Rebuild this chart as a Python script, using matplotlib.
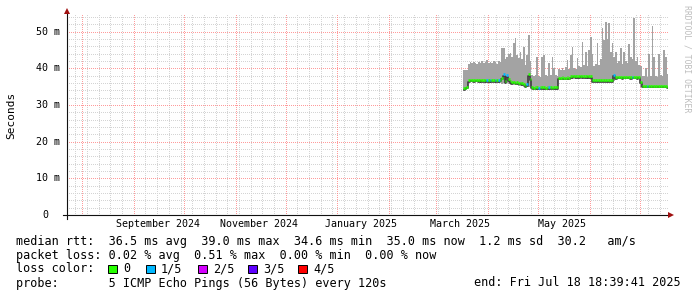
import pandas as pd
import matplotlib
matplotlib.use('Agg')
import matplotlib.pyplot as plt
import matplotlib.dates as mdates
import matplotlib.transforms as mtransforms
from matplotlib.lines import Line2D
from matplotlib.patches import Rectangle

# one value per day starting 2025-03-18, rtt in ms
first_day = '2025-03-18 12:00'
median_rtt = [
    34.6, 34.7, 35.0,
    36.8, 36.9, 36.9, 36.8, 36.9, 36.9, 36.8, 36.9, 36.8, 36.8,
    36.9, 36.8, 36.8, 36.9, 36.8, 36.8, 36.9, 36.8, 36.8, 36.9,
    37.4, 38.4, 36.4, 38.1, 37.0,
    36.4, 36.2, 36.3, 36.1, 36.2, 36.0, 36.1, 35.9, 35.8,
    35.2, 35.6,
    38.4, 37.2,
    34.9, 34.7, 34.8, 34.8, 34.7, 34.8, 34.8, 34.8,
    34.7, 34.8, 34.8, 34.8, 34.7, 34.8, 34.8, 34.8,
    37.4, 37.4, 37.5, 37.4, 37.4, 37.5, 37.4,
    37.8, 37.8, 37.9, 37.8, 37.8, 37.8, 37.9, 37.8, 37.8, 37.8, 37.9, 37.8, 37.8,
    36.8, 36.7, 36.8, 36.8, 36.7, 36.8, 36.8, 36.8, 36.7, 36.8, 36.8, 36.8, 36.8,
    38.3,
    37.6, 37.7, 37.7, 37.7, 37.6, 37.7, 37.7, 37.7, 37.7, 37.6, 37.7, 37.7, 37.7, 37.6, 37.7,
    36.3,
    35.3, 35.2, 35.3, 35.3, 35.2, 35.3, 35.3, 35.3, 35.2, 35.3, 35.3, 35.3, 35.2, 35.3, 35.2,
    34.9,
]
smoke_max = [
    39.5, 39.6, 39.4,
    41.3, 41.6, 41.4, 41.8, 41.5, 41.2, 41.7, 41.5, 41.9, 41.4,
    41.6, 42.2, 41.5, 41.8, 41.4, 42.0, 41.6, 41.3, 42.1, 41.7,
    45.5, 45.4, 42.5, 43.0, 44.0,
    44.2, 43.0, 46.8, 48.2, 43.5, 42.8, 44.5, 42.5, 45.9,
    41.0, 43.5,
    49.1, 42.0,
    38.2, 37.9, 38.3, 43.2, 38.0, 37.7, 43.2, 43.6,
    38.1, 37.9, 41.5, 38.2, 43.0, 40.0, 38.3, 37.8,
    39.8, 39.4, 40.1, 39.6, 40.3, 42.3, 39.8,
    43.6, 45.9, 40.2, 39.9, 42.7, 40.5, 40.3, 47.3, 40.8, 44.5, 40.6, 45.0, 48.6,
    44.0, 40.5, 41.2, 46.8, 40.8, 42.5, 51.0, 47.7, 52.7, 48.0, 52.3, 44.5, 46.8,
    43.0,
    44.5, 41.5, 42.0, 45.5, 41.2, 44.5, 42.0, 41.5, 46.5, 43.0, 42.5, 53.6, 42.0, 43.2, 41.0,
    40.5,
    37.8, 38.0, 40.0, 37.6, 44.0, 37.9, 51.6, 43.2, 38.0, 37.7, 44.0, 38.1, 37.8, 45.0, 43.2,
    38.5,
]
smoke_min = [
    34.2, 34.3, 34.4,
    36.2, 36.3, 36.2, 36.2, 36.3, 36.2, 36.2, 36.2, 36.3, 36.2,
    36.2, 36.2, 36.1, 36.2, 36.2, 36.3, 36.2, 36.2, 36.1, 36.2,
    35.8, 36.0, 35.6, 35.9, 35.7,
    35.7, 35.6, 35.6, 35.4, 35.5, 35.3, 35.4, 35.2, 35.0,
    34.6, 34.8,
    35.0, 35.2,
    34.2, 34.2, 34.3, 34.2, 34.2, 34.2, 34.3, 34.2,
    34.2, 34.2, 34.2, 34.3, 34.2, 34.2, 34.2, 34.2,
    36.9, 36.9, 37.0, 36.9, 36.9, 36.9, 36.9,
    37.2, 37.2, 37.3, 37.2, 37.2, 37.2, 37.2, 37.2, 37.3, 37.2, 37.2, 37.2, 37.2,
    36.2, 36.2, 36.2, 36.1, 36.2, 36.2, 36.2, 36.2, 36.2, 36.1, 36.2, 36.2, 36.2,
    36.5,
    37.1, 37.1, 37.1, 37.0, 37.1, 37.1, 37.1, 37.1, 37.1, 37.1, 37.0, 37.1, 37.1, 37.1, 37.1,
    35.0,
    34.7, 34.7, 34.7, 34.6, 34.7, 34.7, 34.7, 34.7, 34.7, 34.6, 34.7, 34.7, 34.7, 34.7, 34.6,
    34.3,
]
# lost pings (out of 5) per day
loss = [
    0, 0, 0, 0, 0, 0, 0, 0, 0, 0,
    0, 0, 0, 0, 1, 0, 1, 0, 0, 1,
    0, 1, 0, 0, 1, 0, 1, 0, 0, 0,
    0, 0, 0, 0, 0, 0, 0, 0, 1, 0,
    0, 0, 0, 0, 0, 1, 0, 0, 0, 0,
    0, 1, 0, 0, 0, 0, 0, 0, 0, 0,
    0, 0, 0, 0, 0, 0, 0, 0, 0, 0,
    0, 0, 0, 0, 0, 0, 0, 0, 0, 0,
    0, 0, 0, 0, 0, 0, 0, 0, 0, 0,
    1, 0, 0, 0, 0, 0, 0, 0, 0, 0,
    0, 1, 0, 0, 0, 0, 0, 0, 0, 0,
    1, 0, 0, 0, 0, 0, 0, 0, 0, 0,
    0, 0, 0,
]

graph_start = pd.Timestamp('2024-07-23 18:39:41')
graph_end = pd.Timestamp('2025-07-18 18:39:41')
y_max = 54.8

month_label_at = ['2024-09-01', '2024-11-01', '2025-01-01', '2025-03-01', '2025-05-01']
month_labels = ['September 2024', 'November 2024', 'January 2025', 'March 2025', 'May 2025']
y_ticks = [0, 10, 20, 30, 40, 50]
y_tick_labels = ['0', '10 m', '20 m', '30 m', '40 m', '50 m']

loss_labels = ['0', '1/5', '2/5', '3/5', '4/5']
loss_colors = ['#26ff00', '#00b8ff', '#d400ff', '#5e00ff', '#ff0000']

stats_line = 'median rtt:  36.5 ms avg  39.0 ms max  34.6 ms min  35.0 ms now  1.2 ms sd  30.2   am/s'
loss_line = 'packet loss: 0.02 % avg  0.51 % max  0.00 % min  0.00 % now'
probe_line = 'probe:       5 ICMP Echo Pings (56 Bytes) every 120s'
end_line = 'end: Fri Jul 18 18:39:41 2025'

W, H = 697, 297
MONO = 'DejaVu Sans Mono'
GRID = '#d4d4d4'
MGRID = '#ff7a7a'
ARROW = '#a01010'


def fx(x):
    return x / W


def fy(y):
    return 1 - y / H


fig = plt.figure(figsize=(W / 100, H / 100), dpi=100)
ax = fig.add_axes([fx(67), fy(215), (668 - 67) / W, (215 - 14) / H])
ax.set_xlim(graph_start, graph_end)
ax.set_ylim(0, y_max)
for s in ax.spines.values():
    s.set_visible(False)
ax.set_xticks([])
ax.set_yticks([])

dot = dict(lw=0.72, ls=(0.5, (1, 1)))
for v in range(2, 55, 2):
    if v % 10:
        ax.axhline(v, color=GRID, zorder=0, **dot)
for d in pd.date_range(graph_start, graph_end, freq='W-SUN'):
    if d.day != 1:
        ax.axvline(d, color=GRID, zorder=0, **dot)
for v in range(10, 55, 10):
    ax.axhline(v, color=MGRID, alpha=0.75, zorder=0.5, **dot)
for d in pd.date_range(graph_start, graph_end, freq='MS'):
    ax.axvline(d, color=MGRID, alpha=0.75, zorder=0.5, **dot)

days = pd.date_range(first_day, periods=len(median_rtt), freq='D')
xd = mdates.date2num(days)
lo = pd.Series(smoke_min)
hi = pd.Series(smoke_max)
ax.bar(xd, hi - lo, bottom=lo, width=1.0, color='#a3a3a3', linewidth=0,
       antialiased=False, zorder=2)

shadow = mtransforms.offset_copy(ax.transData, fig=fig, x=0, y=-1.5, units='dots')
ax.step(xd, median_rtt, where='mid', color='#3c3c3c', lw=1.2, transform=shadow, zorder=3)
ax.hlines(median_rtt, xd - 0.5, xd + 0.5, colors=[loss_colors[k] for k in loss],
          lw=1.9, zorder=4)

# axes lines with rrdtool style arrows
fig.add_artist(Line2D([fx(67), fx(67)], [fy(219), fy(12)], color='#111111', lw=0.8))
fig.add_artist(Line2D([fx(63), fx(670)], [fy(215), fy(215)], color='#111111', lw=0.8))
fig.add_artist(Line2D([fx(67)], [fy(11)], marker='^', color=ARROW, ms=4.2, mew=0))
fig.add_artist(Line2D([fx(671)], [fy(215)], marker='>', color=ARROW, ms=4.2, mew=0))

for val, lab in zip(y_ticks, y_tick_labels):
    right = 60 if ' ' in lab else 48
    fig.text(fx(right), ax.transData.transform((0, val))[1] / H, lab, family=MONO,
             size=7.2, ha='right', va='center')

for at, lab in zip(month_label_at, month_labels):
    pos = pd.Timestamp(at) + pd.Timedelta(days=15)
    ax.text(pos, -9.3 / 201, lab, transform=ax.get_xaxis_transform(), family=MONO,
            size=7.2, ha='center', va='center')

fig.text(fx(11), fy(115), 'Seconds', family=MONO, size=8, rotation=90,
         ha='center', va='center')
fig.text(fx(687), fy(5), 'RRDTOOL / TOBI OETIKER', family=MONO, size=5.9,
         rotation=270, ha='center', va='top', color='#bdbdbd')

fs = 8.45
fig.text(fx(16), fy(241.3), stats_line, family=MONO, size=fs, va='center')
fig.text(fx(16), fy(255.3), loss_line, family=MONO, size=fs, va='center')
fig.text(fx(16), fy(268.7), 'loss color:', family=MONO, size=fs, va='center')
box_x = [108, 146, 198, 248, 298]
for bx, lab, col in zip(box_x, loss_labels, loss_colors):
    fig.add_artist(Rectangle((fx(bx), fy(273)), 8.5 / W, 8.5 / H, facecolor=col,
                             edgecolor='black', lw=0.7))
    fig.text(fx(bx + 15), fy(268.7), lab, family=MONO, size=fs, va='center')
fig.text(fx(16), fy(283), probe_line, family=MONO, size=fs, va='center')
fig.text(fx(681), fy(283), end_line, family=MONO, size=fs, va='center', ha='right')

fig.savefig('out.png', dpi=100)
